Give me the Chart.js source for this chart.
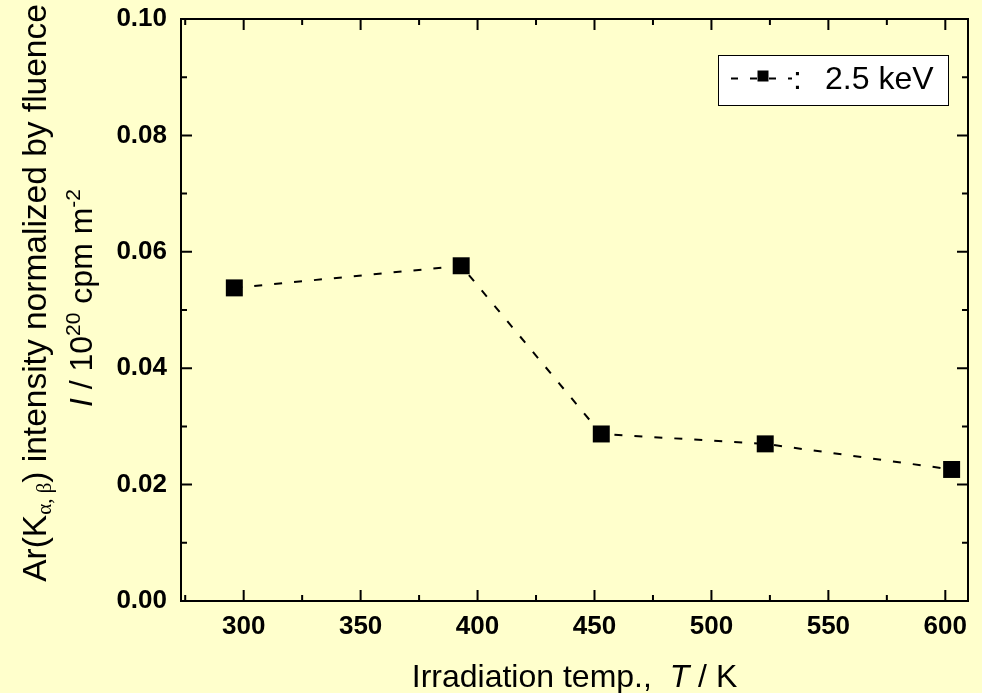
<!DOCTYPE html>
<html>
<head>
<meta charset="utf-8">
<script src="https://cdn.jsdelivr.net/npm/chart.js@4.4.1/dist/chart.umd.min.js"></script>
<style>
  html, body { margin: 0; padding: 0; background: #ffffcc; }
  #wrap { width: 982px; height: 693px; position: relative; }
</style>
</head>
<body>
<div id="wrap"><canvas id="c" width="982" height="693"></canvas></div>
<script>
// Irradiation temperature (K) and normalized Ar(K) intensity
const temperatures = [296.0, 393.0, 452.9, 523.0, 602.7];
const intensities = [0.0538, 0.0576, 0.0287, 0.0270, 0.0226];
const seriesLabel = '2.5 keV';

const xMajorTicks = [300, 350, 400, 450, 500, 550, 600];
const xMinorTicks = [275, 325, 375, 425, 475, 525, 575];
const yMajorTicks = [0.00, 0.02, 0.04, 0.06, 0.08, 0.10];
const yMinorTicks = [0.01, 0.03, 0.05, 0.07, 0.09];

const FONT = '"Liberation Sans", Arial, Helvetica, sans-serif';
const BG = '#ffffcc';

// Background, frame with inward ticks on all four sides
const framePlugin = {
  id: 'frame',
  beforeDraw(chart) {
    const { ctx } = chart;
    ctx.save();
    ctx.fillStyle = BG;
    ctx.fillRect(0, 0, chart.width, chart.height);
    ctx.restore();
  },
  beforeDatasetsDraw(chart) {
    const { ctx, chartArea: a, scales: { x, y } } = chart;
    ctx.save();
    ctx.strokeStyle = '#000';
    ctx.lineWidth = 2;
    ctx.strokeRect(a.left, a.top, a.right - a.left, a.bottom - a.top);
    const major = 11, minor = 6;
    ctx.beginPath();
    const xt = (v, len) => {
      const px = x.getPixelForValue(v);
      ctx.moveTo(px, a.bottom); ctx.lineTo(px, a.bottom - len);
      ctx.moveTo(px, a.top); ctx.lineTo(px, a.top + len);
    };
    const yt = (v, len) => {
      const py = y.getPixelForValue(v);
      ctx.moveTo(a.left, py); ctx.lineTo(a.left + len, py);
      ctx.moveTo(a.right, py); ctx.lineTo(a.right - len, py);
    };
    xMajorTicks.forEach(v => xt(v, major));
    xMinorTicks.forEach(v => xt(v, minor));
    yMajorTicks.forEach(v => yt(v, major));
    yMinorTicks.forEach(v => yt(v, minor));
    ctx.stroke();
    ctx.restore();
  }
};

// Draws a run of text pieces (with optional sub/superscripts and italics)
function pieceFont(p, base) {
  return (p.italic ? 'italic ' : '') + (p.size || base) + 'px ' + (p.family || FONT);
}
function runWidth(ctx, pieces, base) {
  let w = 0;
  pieces.forEach(p => { ctx.font = pieceFont(p, base); w += ctx.measureText(p.t).width; });
  return w;
}
function drawRun(ctx, pieces, base, x0, y0) {
  let x = x0;
  pieces.forEach(p => {
    ctx.font = pieceFont(p, base);
    ctx.fillText(p.t, x, y0 + (p.dy || 0));
    x += ctx.measureText(p.t).width;
  });
}

const titlePlugin = {
  id: 'titles',
  afterDraw(chart) {
    const { ctx, chartArea: a } = chart;
    ctx.save();
    ctx.fillStyle = '#000';
    ctx.textAlign = 'left';
    ctx.textBaseline = 'alphabetic';

    // x axis title
    const xt = [
      { t: 'Irradiation temp.,  ' },
      { t: 'T', italic: true },
      { t: ' / K' }
    ];
    const cx = (a.left + a.right) / 2;
    drawRun(ctx, xt, 32, cx - runWidth(ctx, xt, 32) / 2, 687);

    // y axis title, two rotated lines
    const line1 = [
      { t: 'Ar(K' },
      { t: 'α, β', size: 21, family: '"Liberation Serif", "DejaVu Serif", serif', dy: 5 },
      { t: ') intensity normalized by fluence' }
    ];
    const line2 = [
      { t: 'I', italic: true },
      { t: ' / 10' },
      { t: '20', size: 21, dy: -12 },
      { t: ' cpm m' },
      { t: '-2', size: 21, dy: -12 }
    ];
    [[line1, 33.5, 46, 293], [line2, 32, 92, 298]].forEach(([run, size, bx, cy]) => {
      ctx.save();
      ctx.translate(bx, cy);
      ctx.rotate(-Math.PI / 2);
      drawRun(ctx, run, size, -runWidth(ctx, run, size) / 2, 0);
      ctx.restore();
    });

    // legend box
    ctx.fillStyle = '#fff';
    ctx.fillRect(718.5, 55.5, 230, 50);
    ctx.strokeStyle = '#000';
    ctx.lineWidth = 1;
    ctx.strokeRect(718.5, 55.5, 230, 50);
    ctx.lineWidth = 2;
    ctx.setLineDash([7, 12]);
    ctx.beginPath();
    ctx.moveTo(731, 78.5);
    ctx.lineTo(792, 78.5);
    ctx.stroke();
    ctx.setLineDash([]);
    ctx.fillStyle = '#000';
    ctx.fillRect(757.5, 70.5, 11, 11);
    ctx.font = '32px ' + FONT;
    ctx.fillText(':', 793, 89);
    ctx.fillText(chart.data.datasets[0].label, 825, 89);
    ctx.restore();
  }
};

new Chart(document.getElementById('c'), {
  type: 'line',
  data: {
    datasets: [{
      label: seriesLabel,
      data: temperatures.map((t, i) => ({ x: t, y: intensities[i] })),
      borderColor: '#000',
      backgroundColor: '#000',
      borderWidth: 2,
      borderDash: [8, 12],
      pointStyle: 'rect',
      pointRadius: 12,
      pointHoverRadius: 12,
      pointBorderWidth: 0,
      tension: 0
    }]
  },
  options: {
    responsive: false,
    animation: false,
    events: [],
    layout: { padding: { top: 19, right: 14, left: 0, bottom: 0 } },
    plugins: { legend: { display: false }, tooltip: { enabled: false }, title: { display: false } },
    scales: {
      x: {
        type: 'linear',
        min: 273.2,
        max: 609.7,
        afterBuildTicks: s => { s.ticks = xMajorTicks.map(v => ({ value: v })); },
        afterFit: s => { s.height = 92; s.paddingLeft = 0; s.paddingRight = 0; },
        grid: { display: false, drawTicks: false },
        border: { display: false },
        ticks: {
          color: '#000',
          padding: 10,
          maxRotation: 0,
          font: { family: FONT, size: 26, weight: 'bold' },
          callback: v => String(v)
        }
      },
      y: {
        type: 'linear',
        min: 0,
        max: 0.1,
        afterBuildTicks: s => { s.ticks = yMajorTicks.map(v => ({ value: v })); },
        afterFit: s => { s.width = 181; s.paddingTop = 0; s.paddingBottom = 0; },
        grid: { display: false, drawTicks: false },
        border: { display: false },
        ticks: {
          color: '#000',
          padding: 14,
          font: { family: FONT, size: 26, weight: 'bold' },
          callback: v => v.toFixed(2)
        }
      }
    }
  },
  plugins: [framePlugin, titlePlugin]
});
</script>
</body>
</html>
